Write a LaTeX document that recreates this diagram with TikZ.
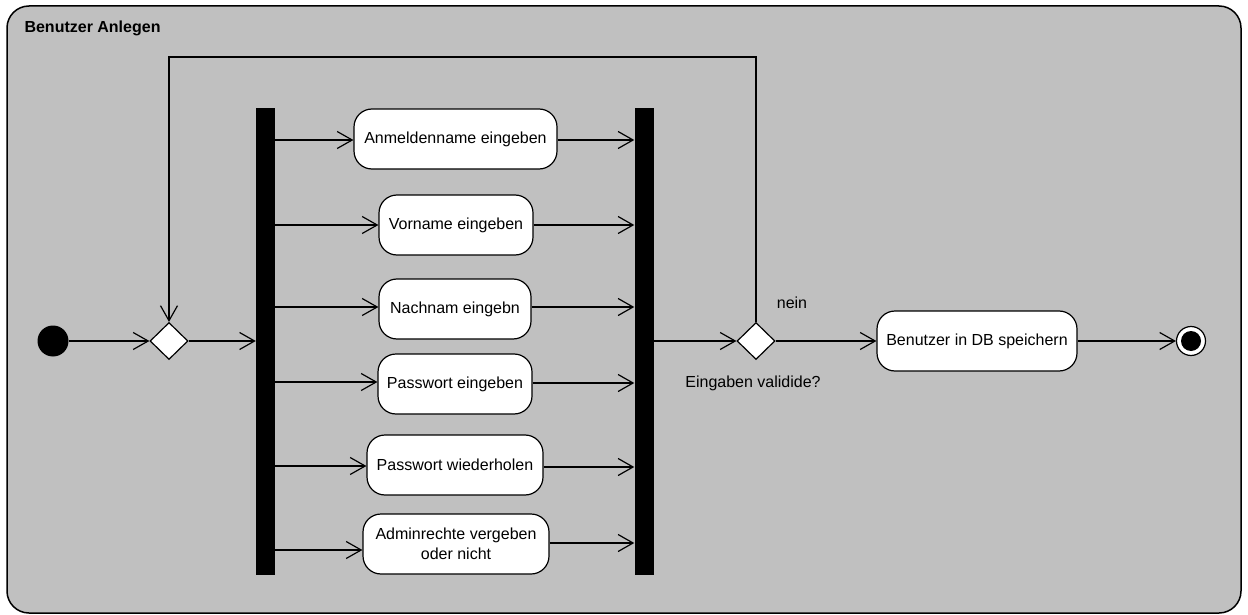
\documentclass[tikz,border=0pt]{standalone}
\usepackage{fontspec}
\setmainfont{Liberation Sans}
\usetikzlibrary{arrows.meta,shapes.geometric}
\definecolor{panel}{HTML}{C0C0C0}
\begin{document}
\begin{tikzpicture}[x=1pt,y=-1pt,
  every node/.style={font=\fontsize{16}{19.5}\selectfont},
  action/.style={draw, fill=white, line width=1.2pt, rounded corners=18pt,
    align=center, inner sep=0pt, minimum height=60},
  syncbar/.style={fill=black, draw=none, minimum width=19, minimum height=467, inner sep=0pt},
  decision/.style={diamond, draw, fill=white, line width=1.2pt, inner sep=0pt,
    minimum width=38, minimum height=37},
  flow/.style={line width=1.2pt, -{Straight Barb[length=15pt,width=17pt,line width=1.2pt]}}]
\useasboundingbox (0,0) rectangle (1248,615);
\fill[white] (0,0) rectangle (1248,615);
% activity frame
\draw[line width=1.5pt, fill=panel, rounded corners=22pt] (7,6) rectangle (1241,613);
\node[anchor=west, font=\bfseries\fontsize{16}{19.5}\selectfont] (title) at (21,28) {Benutzer Anlegen};

% initial and final nodes
\node[circle, fill=black, minimum size=31, inner sep=0pt] (start) at (53,341) {};
\node[circle, draw, line width=1.2pt, fill=white, minimum size=29, inner sep=0pt] (end) at (1191,341) {};
\node[circle, fill=black, minimum size=20, inner sep=0pt] (endcore) at (1191,341) {};

% decisions
\node[decision] (d1) at (169,341) {};
\node[decision] (d2) at (756,341) {};

% fork and join bars
\node[syncbar] (fork) at (265.5,341.5) {};
\node[syncbar] (join) at (644,341.5) {};

% parallel actions
\node[action, minimum width=203] (a1) at (455.5,139) {Anmeldenname eingeben};
\node[action, minimum width=154] (a2) at (456,225) {Vorname eingeben};
\node[action, minimum width=152] (a3) at (455,309) {Nachnam eingebn};
\node[action, minimum width=154] (a4) at (455,384) {Passwort eingeben};
\node[action, minimum width=176] (a5) at (455,465) {Passwort wiederholen};
\node[action, minimum width=186] (a6) at (456,544) {Adminrechte vergeben\\oder nicht};

% final action
\node[action, minimum width=200] (save) at (977,341) {Benutzer in DB speichern};

% labels
\node (nein) at (792,303) {nein};
\node (valid) at (753,383) {Eingaben validide?};

% control flow
\draw[flow] (start) -- (d1.west);
\draw[flow] (d1.east) -- (fork.west |- d1.east);
\foreach \a/\y in {a1/140,a2/225,a3/307,a4/382,a5/466,a6/550}{
  \draw[flow] (fork.east |- 0,\y) -- (\a.west |- 0,\y);
}
\foreach \a/\y in {a1/140,a2/225,a3/307,a4/383,a5/467,a6/543}{
  \draw[flow] (\a.east |- 0,\y) -- (join.west |- 0,\y);
}
\draw[flow] (join.east |- d2.west) -- (d2.west);
\draw[flow] (d2.east) -- (save.west);
\draw[flow] (save.east) -- (end.west);
\draw[flow] (d2.north) -- (d2.north |- 0,57) -| (d1.north);
\end{tikzpicture}
\end{document}
